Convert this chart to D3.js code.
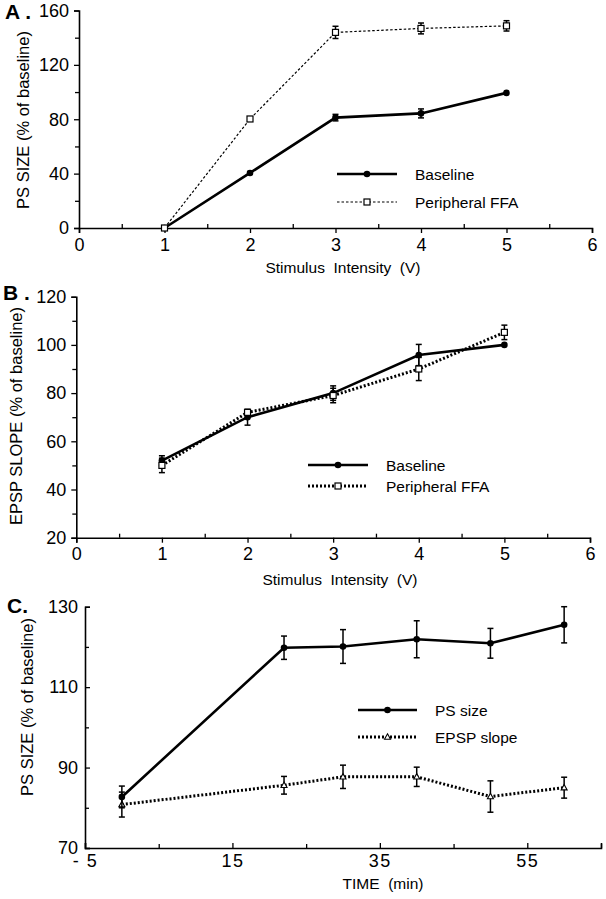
<!DOCTYPE html>
<html>
<head>
<meta charset="utf-8">
<script src="https://cdn.jsdelivr.net/npm/d3@7"></script>
<style>
  html, body { margin: 0; padding: 0; background: #fff; }
  svg { display: block; font-family: "Liberation Sans", Arial, Helvetica, sans-serif; }
  text { fill: #000; }
</style>
</head>
<body>
<svg id="chart" width="606" height="899"></svg>
<script>
// ---------- Panel A data ----------
const intensityA = [1, 2, 3, 4, 5];
const aBaseline = [0, 40.5, 81.2, 84.3, 99.4];
const aBaselineErr = [0, 1, 2.4, 3.3, 0];
const aFFA = [0, 80.2, 143.9, 146.8, 148.7];
const aFFAErr = [0, 1, 4.5, 4.0, 3.8];
const aYTicks = [0, 40, 80, 120, 160];
const aYMinor = [20, 60, 100, 140];
const stimTicks = [0, 1, 2, 3, 4, 5, 6];
const stimMinor = [0.5, 1.5, 2.5, 3.5, 4.5, 5.5];

// ---------- Panel B data ----------
const intensityB = [1, 2, 3, 4, 5];
const bBaseline = [52, 70, 80, 95.8, 100];
const bBaselineErr = [2, 3.3, 3, 4.4, 0.5];
const bFFA = [50, 72, 79, 90, 105.2];
const bFFAErr = [3, 1, 3, 4.8, 3];
const bYTicks = [20, 40, 60, 80, 100, 120];
const bYMinor = [30, 50, 70, 90, 110];

// ---------- Panel C data ----------
const timeC = [0, 22, 30, 40, 50, 60];
const cPS = [82.7, 119.8, 120.1, 121.9, 120.9, 125.5];
const cPSErr = [2.7, 2.9, 4.2, 4.6, 3.7, 4.5];
const cEPSP = [80.8, 85.6, 87.7, 87.7, 82.8, 85.0];
const cEPSPErr = [3.1, 2.2, 2.9, 2.4, 3.9, 2.6];
const cYTicks = [70, 90, 110, 130];
const cYMinor = [80, 100, 120];
const cXTicks = [-5, 15, 35, 55];
const cXTickLabels = ["- 5", "15", "35", "55"];
const cXMinor = [5, 25, 45, 65];

const svg = d3.select("#chart");

function drawAxes(g, x, y, opt) {
  const yAx = d3.axisLeft(y).tickValues(opt.yTicks).tickSizeOuter(0)
    .tickSize(opt.inside ? -5 : 5).tickPadding(opt.inside ? 7 : 5).tickFormat(d3.format("d"));
  const yG = g.append("g").attr("transform", `translate(${x.range()[0]},0)`).call(yAx);
  const yMin = d3.axisLeft(y).tickValues(opt.yMinor).tickSizeOuter(0)
    .tickSize(opt.inside ? -4 : 4).tickFormat("");
  const yMG = g.append("g").attr("transform", `translate(${x.range()[0]},0)`).call(yMin);
  yMG.select(".domain").remove();

  const xAx = d3.axisBottom(x).tickValues(opt.xTicks).tickSizeOuter(0)
    .tickSize(opt.inside ? -5 : 5).tickPadding(opt.inside ? 6 : 5)
    .tickFormat(opt.xLabels ? ((d, i) => opt.xLabels[i]) : d3.format("d"));
  const xG = g.append("g").attr("transform", `translate(0,${y.range()[0]})`).call(xAx);
  const xMin = d3.axisBottom(x).tickValues(opt.xMinor).tickSizeOuter(0)
    .tickSize(-4).tickFormat("");
  const xMG = g.append("g").attr("transform", `translate(0,${y.range()[0]})`).call(xMin);
  xMG.select(".domain").remove();

  [yG, xG, yMG, xMG].forEach(a => {
    a.selectAll("path.domain").attr("stroke", "#000").attr("stroke-width", 1.6);
    a.selectAll(".tick line").attr("stroke", "#000").attr("stroke-width", 1.3);
    a.selectAll(".tick text").attr("font-size", 18).attr("fill", "#000")
      .style("font-family", '"Liberation Sans", Arial, sans-serif');
  });
  if (opt.xLetterSpacing) xG.selectAll(".tick text").attr("letter-spacing", opt.xLetterSpacing);
}

function drawSeries(g, x, y, xs, vals, errs, st) {
  const pts = xs.map((d, i) => ({ x: d, v: vals[i], e: errs[i] }));
  pts.filter(p => p.e > 0.6).forEach(p => {
    const cx = x(p.x), y1 = y(p.v + p.e), y2 = y(p.v - p.e);
    g.append("line").attr("x1", cx).attr("x2", cx).attr("y1", y1).attr("y2", y2)
      .attr("stroke", "#000").attr("stroke-width", 1.5);
    [y1, y2].forEach(yy => g.append("line").attr("x1", cx - 3).attr("x2", cx + 3)
      .attr("y1", yy).attr("y2", yy).attr("stroke", "#000").attr("stroke-width", 1.5));
  });
  const line = d3.line().x(p => x(p.x)).y(p => y(p.v));
  g.append("path").datum(pts).attr("d", line).attr("fill", "none")
    .attr("stroke", "#000").attr("stroke-width", st.width)
    .attr("stroke-dasharray", st.dash || null);
  pts.forEach(p => drawMarker(g, x(p.x), y(p.v), st.marker));
}

function drawMarker(g, cx, cy, type) {
  if (type === "circle") {
    g.append("circle").attr("cx", cx).attr("cy", cy).attr("r", 3.3).attr("fill", "#000");
  } else if (type === "square") {
    g.append("rect").attr("x", cx - 3).attr("y", cy - 3).attr("width", 6).attr("height", 6)
      .attr("fill", "#fff").attr("stroke", "#000").attr("stroke-width", 1.2);
  } else if (type === "triangle") {
    g.append("path").attr("d", `M${cx},${cy - 3.2}L${cx + 3},${cy + 2.2}L${cx - 3},${cy + 2.2}Z`)
      .attr("fill", "#fff").attr("stroke", "#000").attr("stroke-width", 1.1);
  }
}

function drawLegend(g, x1, x2, y, label, st) {
  g.append("line").attr("x1", x1).attr("x2", x2).attr("y1", y).attr("y2", y)
    .attr("stroke", "#000").attr("stroke-width", st.width).attr("stroke-dasharray", st.dash || null);
  drawMarker(g, (x1 + x2) / 2, y, st.marker);
  g.append("text").attr("x", x2 + 18).attr("y", y).attr("dy", "0.36em")
    .attr("font-size", 15.5).text(label);
}

function yTitle(g, cx, cy, text) {
  g.append("text").attr("transform", `translate(${cx},${cy}) rotate(-90)`)
    .attr("text-anchor", "middle").attr("dy", "0.36em").attr("font-size", 16.5).text(text);
}
function xTitle(g, cx, cy, text) {
  g.append("text").attr("x", cx).attr("y", cy).attr("dy", "0.36em")
    .attr("text-anchor", "middle").attr("font-size", 15.5).style("white-space", "pre").text(text);
}
function panelLabel(g, x, y, text) {
  g.append("text").attr("x", x).attr("y", y).attr("font-size", 21).attr("font-weight", "bold")
    .style("white-space", "pre").text(text);
}

// ---------- Panel A ----------
{
  const g = svg.append("g");
  const x = d3.scaleLinear().domain([0, 6]).range([79, 592]);
  const y = d3.scaleLinear().domain([0, 160]).range([228, 10.5]);
  drawAxes(g, x, y, { yTicks: aYTicks, yMinor: aYMinor, xTicks: stimTicks, xMinor: stimMinor });
  const solid = { width: 2.6, marker: "circle" };
  const dashed = { width: 1.2, dash: "2.5,2", marker: "square" };
  drawSeries(g, x, y, intensityA, aBaseline, aBaselineErr, solid);
  drawSeries(g, x, y, intensityA, aFFA, aFFAErr, dashed);
  drawLegend(g, 337, 397, 174, "Baseline", solid);
  drawLegend(g, 337, 397, 202, "Peripheral FFA", dashed);
  xTitle(g, 343, 267, "Stimulus  Intensity  (V)");
  yTitle(g, 23, 120, "PS SIZE (% of baseline)");
  panelLabel(g, 5, 19, "A .");
}

// ---------- Panel B ----------
{
  const g = svg.append("g");
  const x = d3.scaleLinear().domain([0, 6]).range([76.3, 590]);
  const y = d3.scaleLinear().domain([20, 120]).range([537.7, 296.7]);
  drawAxes(g, x, y, { yTicks: bYTicks, yMinor: bYMinor, xTicks: stimTicks, xMinor: stimMinor });
  const solid = { width: 2.6, marker: "circle" };
  const dotted = { width: 3, dash: "2,2", marker: "square" };
  drawSeries(g, x, y, intensityB, bBaseline, bBaselineErr, solid);
  drawSeries(g, x, y, intensityB, bFFA, bFFAErr, dotted);
  drawLegend(g, 308, 368, 465, "Baseline", solid);
  drawLegend(g, 308, 368, 486, "Peripheral FFA", dotted);
  xTitle(g, 340, 579, "Stimulus  Intensity  (V)");
  yTitle(g, 16, 416, "EPSP SLOPE (% of baseline)");
  panelLabel(g, 3, 300, "B .");
}

// ---------- Panel C ----------
{
  const g = svg.append("g");
  const x = d3.scaleLinear().domain([-5, 65]).range([85, 601]);
  const y = d3.scaleLinear().domain([70, 130]).range([848, 606.7]);
  drawAxes(g, x, y, { yTicks: cYTicks, yMinor: cYMinor, xTicks: cXTicks, xMinor: cXMinor,
    xLabels: cXTickLabels, inside: true, xLetterSpacing: 1.5 });
  const solid = { width: 2.6, marker: "circle" };
  const dotted = { width: 3, dash: "2,2", marker: "triangle" };
  drawSeries(g, x, y, timeC, cEPSP, cEPSPErr, dotted);
  drawSeries(g, x, y, timeC, cPS, cPSErr, solid);
  drawLegend(g, 358, 417, 710, "PS size", solid);
  drawLegend(g, 358, 417, 737, "EPSP slope", dotted);
  xTitle(g, 383, 883, "TIME  (min)");
  yTitle(g, 27, 707, "PS SIZE (% of baseline)");
  panelLabel(g, 7, 613, "C.");
}
</script>
</body>
</html>
